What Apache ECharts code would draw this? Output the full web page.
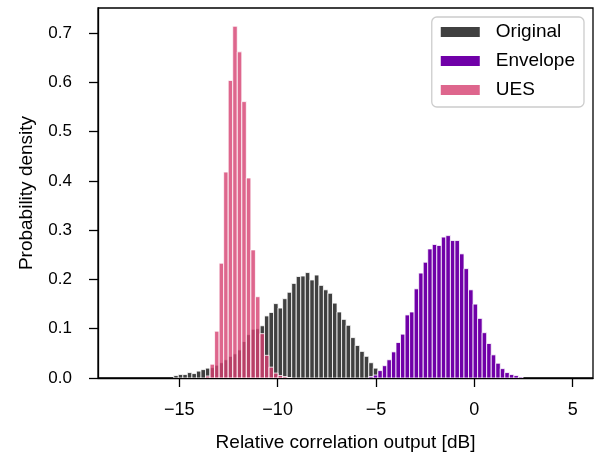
<!DOCTYPE html>
<html>
<head>
<meta charset="utf-8">
<script src="https://cdn.jsdelivr.net/npm/echarts@6/dist/echarts.min.js"></script>
<style>
  html, body { margin: 0; padding: 0; background: #fff; }
  #chart { width: 596px; height: 453px; }
</style>
</head>
<body>
<div id="chart"></div>
<script>
  // common histogram bins (dB)
  var binWidth = 0.2305;
  var firstBinCenter = -15.163;

  var seriesNames = ['Original', 'Envelope', 'UES'];

  // density per bin, each series starts at a bin index
  var originalStart = 0;
  var originalValues = [0.005, 0.007, 0.007, 0.011, 0.009, 0.014, 0.017, 0.020,
    0.021, 0.026, 0.031, 0.037, 0.044, 0.049, 0.057, 0.074, 0.088, 0.099, 0.100, 0.106,
    0.126, 0.133, 0.151, 0.142, 0.161, 0.174, 0.192, 0.206, 0.207, 0.214, 0.199, 0.209,
    0.188, 0.179, 0.172, 0.152, 0.134, 0.119, 0.107, 0.082, 0.066, 0.054, 0.044, 0.031,
    0.020, 0.010, 0.005, 0.002];

  var envelopeStart = 43;
  var envelopeValues = [0.003, 0.006, 0.015, 0.025, 0.037, 0.053, 0.072, 0.089, 0.128,
    0.134, 0.181, 0.213, 0.235, 0.262, 0.271, 0.269, 0.286, 0.289, 0.279, 0.279, 0.252,
    0.222, 0.179, 0.150, 0.121, 0.092, 0.070, 0.047, 0.030, 0.019, 0.011, 0.007, 0.005, 0.002];

  var uesStart = 7;
  var uesValues = [0.004, 0.028, 0.095, 0.233, 0.418, 0.604, 0.714, 0.662, 0.561, 0.406,
    0.260, 0.165, 0.090, 0.046, 0.022, 0.010, 0.005, 0.003, 0.001];

  var xTicks = [-15, -10, -5, 0, 5];
  var yTicks = [0, 0.1, 0.2, 0.3, 0.4, 0.5, 0.6, 0.7];

  var colors = ['#404040', '#7000a8', 'rgba(214,64,112,0.8)'];

  function binData(start, values) {
    return values.map(function (v, i) {
      return [firstBinCenter + (start + i) * binWidth, v];
    });
  }

  function renderBin(params, api) {
    var c = api.value(0);
    var p0 = api.coord([c - binWidth / 2, api.value(1)]);
    var p1 = api.coord([c + binWidth / 2, 0]);
    return {
      type: 'rect',
      shape: { x: p0[0], y: p0[1], width: p1[0] - p0[0], height: p1[1] - p0[1] },
      style: { fill: api.visual('color'), stroke: '#fff', lineWidth: 0.8 }
    };
  }

  function fmtMinus(v) {
    return v < 0 ? '\u2212' + Math.abs(v) : String(v);
  }

  var font = 'Liberation Sans, Arial, sans-serif';
  var chart = echarts.init(document.getElementById('chart'));
  chart.setOption({
    animation: false,
    textStyle: { fontFamily: font },
    grid: {
      left: 98, right: 3, top: 8, bottom: 75,
      outerBoundsMode: 'none',
      show: true, borderColor: '#000', borderWidth: 1.3, backgroundColor: 'transparent'
    },
    legend: {
      data: seriesNames,
      orient: 'vertical',
      right: 12,
      top: 17,
      icon: 'rect',
      itemWidth: 39,
      itemHeight: 10,
      itemGap: 7,
      padding: [4, 9, 6, 9],
      borderColor: '#cccccc',
      borderWidth: 1.3,
      borderRadius: 5,
      backgroundColor: 'rgba(255,255,255,0.8)',
      textStyle: { fontSize: 19, color: '#000', lineHeight: 22, padding: [0, 0, 0, 11], fontFamily: font }
    },
    xAxis: {
      type: 'value',
      min: -19.13,
      max: 6.03,
      name: 'Relative correlation output [dB]',
      nameLocation: 'middle',
      nameGap: 55,
      nameTextStyle: { fontSize: 19, color: '#000', fontFamily: font },
      axisLine: { show: true, onZero: false, lineStyle: { color: '#000', width: 1.3 } },
      axisTick: { show: true, customValues: xTicks, length: 9, lineStyle: { color: '#000', width: 1.3 } },
      axisLabel: { customValues: xTicks, formatter: fmtMinus, fontSize: 18, color: '#000', margin: 23, fontFamily: font },
      splitLine: { show: false }
    },
    yAxis: {
      type: 'value',
      min: 0,
      max: 0.751,
      name: 'Probability density',
      nameLocation: 'middle',
      nameGap: 62,
      nameTextStyle: { fontSize: 19, color: '#000', fontFamily: font },
      axisLine: { show: true, onZero: false, lineStyle: { color: '#000', width: 1.3 } },
      axisTick: { show: true, customValues: yTicks, length: 9, lineStyle: { color: '#000', width: 1.3 } },
      axisLabel: { customValues: yTicks, formatter: function (v) { return v.toFixed(1); }, fontSize: 17, color: '#000', margin: 26, fontFamily: font },
      splitLine: { show: false }
    },
    series: [
      { name: 'Original', type: 'custom', renderItem: renderBin, clip: true,
        itemStyle: { color: colors[0] }, data: binData(originalStart, originalValues) },
      { name: 'Envelope', type: 'custom', renderItem: renderBin, clip: true,
        itemStyle: { color: colors[1] }, data: binData(envelopeStart, envelopeValues) },
      { name: 'UES', type: 'custom', renderItem: renderBin, clip: true,
        itemStyle: { color: colors[2] }, data: binData(uesStart, uesValues) }
    ]
  });
</script>
</body>
</html>
